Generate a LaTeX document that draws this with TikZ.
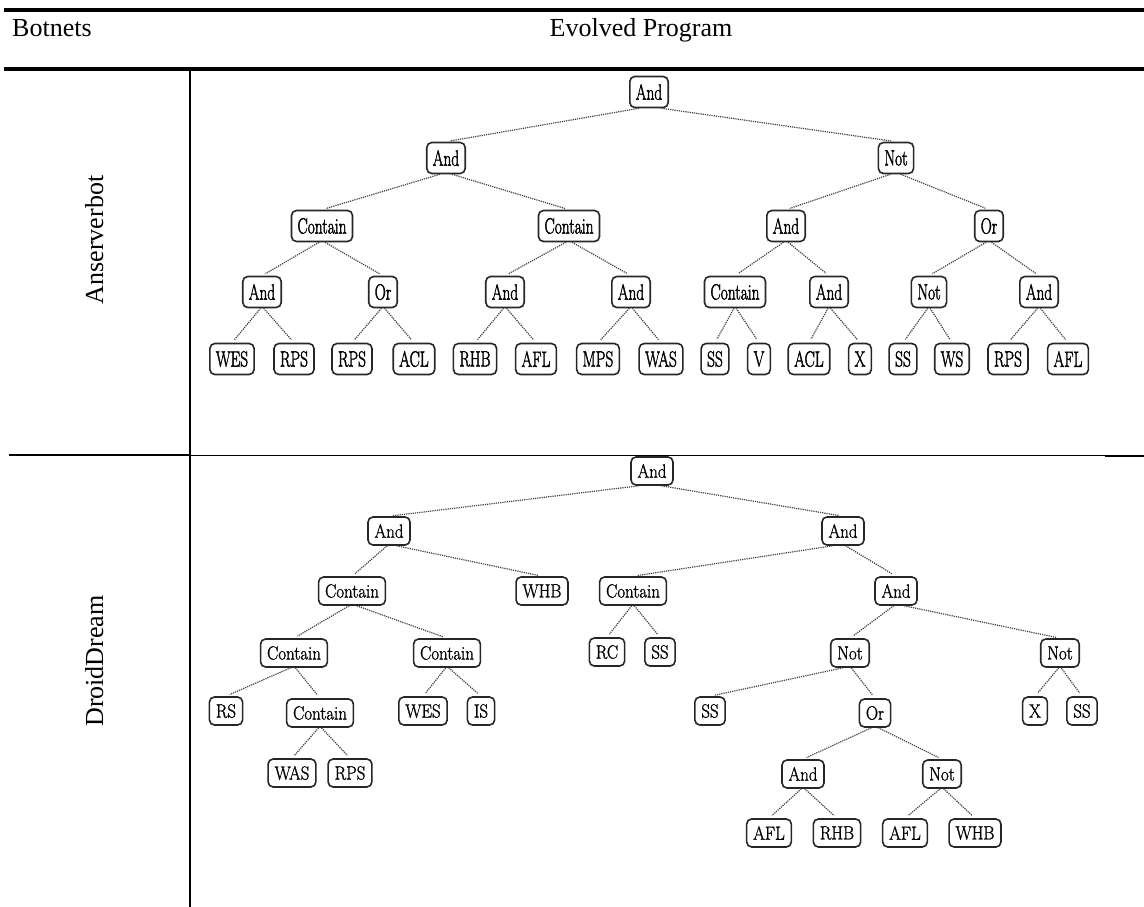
\documentclass[tikz,border=0pt]{standalone}
\usepackage{fontspec}
\newfontfamily\headfont{Liberation Serif}
\newfontfamily\labfont{Latin Modern Roman}[FakeBold=1.3]
\newfontfamily\heavylabfont{Latin Modern Roman}[FakeBold=2.2]
\usetikzlibrary{calc}

% labels of the two expression trees are set a little taller than wide
\newcommand\uptxt[1]{\scalebox{1}[1.43]{#1}}
\newcommand\lowtxt[1]{\scalebox{1}[1.13]{#1}}

% connector from the bottom of a parent box to the top of a child box
\newcommand\tlink[2]{\draw[edge] let \p1=(#1.south), \p2=(#2.north) in ({\x1+0.05*(\x2-\x1)},\y1) -- (\p2);}

\tikzset{
  head/.style={font=\headfont\fontsize{26}{31}\selectfont, inner sep=0pt},
  op/.style={draw=black!85, line width=1.6pt, rounded corners=5pt, inner ysep=0pt},
  upper/.style={op, minimum height=31pt, inner xsep=6pt, font=\heavylabfont\fontsize{15.4}{17}\selectfont},
  lower/.style={op, minimum height=28pt, inner xsep=6.5pt, font=\labfont\fontsize{16.9}{19}\selectfont},
  edge/.style={draw=black!75, densely dotted, line width=1.2pt, shorten >=4pt},
  rulethick/.style={line width=3.6pt},
}

\begin{document}
\begin{tikzpicture}[x=1pt, y=-1pt]
\useasboundingbox (0,0) rectangle (1144,907);

% table rules
\draw[rulethick] (4,10) -- (1144,10);
\draw[rulethick] (4,69) -- (1144,69);
\draw[line width=2.3pt] (190,69) -- (190,907);
\draw[line width=2pt] (9,455) -- (190,455);
\draw[line width=1pt] (190,455) -- (1105,455);
\draw[line width=2pt] (1105,456) -- (1144,456);

% header and row labels
\node[head, anchor=base west] (hb) at (12,37) {Botnets};
\node[head, anchor=base] (hp) at (641,37) {Evolved Program};
\node[head, rotate=90, anchor=base] (la) at (103,240) {Anserverbot};
\node[head, rotate=90, anchor=base] (lb) at (103,661) {DroidDream};

% ---------- Anserverbot ----------
\node[upper] (t0) at (649,92) {\uptxt{And}};
\node[upper] (t1) at (446,158) {\uptxt{And}};
\node[upper] (t2) at (896,158) {\uptxt{Not}};
\node[upper] (t3) at (322,226) {\uptxt{Contain}};
\node[upper] (t4) at (569,226) {\uptxt{Contain}};
\node[upper] (t5) at (786,226) {\uptxt{And}};
\node[upper] (t6) at (989,226) {\uptxt{Or}};
\node[upper] (t7) at (262,292) {\uptxt{And}};
\node[upper] (t8) at (383,292) {\uptxt{Or}};
\node[upper] (t9) at (505,292) {\uptxt{And}};
\node[upper] (t10) at (631,292) {\uptxt{And}};
\node[upper] (t11) at (735,292) {\uptxt{Contain}};
\node[upper] (t12) at (829,292) {\uptxt{And}};
\node[upper] (t13) at (929,292) {\uptxt{Not}};
\node[upper] (t14) at (1039,292) {\uptxt{And}};
\node[upper] (u1) at (232,359) {\uptxt{WES}};
\node[upper] (u2) at (294,359) {\uptxt{RPS}};
\node[upper] (u3) at (352,359) {\uptxt{RPS}};
\node[upper] (u4) at (414,359) {\uptxt{ACL}};
\node[upper] (u5) at (475,359) {\uptxt{RHB}};
\node[upper] (u6) at (536,359) {\uptxt{AFL}};
\node[upper] (u7) at (598,359) {\uptxt{MPS}};
\node[upper] (u8) at (661,359) {\uptxt{WAS}};
\node[upper] (u9) at (715,359) {\uptxt{SS}};
\node[upper] (u10) at (759,359) {\uptxt{V}};
\node[upper] (u11) at (809,359) {\uptxt{ACL}};
\node[upper] (u12) at (860,359) {\uptxt{X}};
\node[upper] (u13) at (903,359) {\uptxt{SS}};
\node[upper] (u14) at (952,359) {\uptxt{WS}};
\node[upper] (u15) at (1008,359) {\uptxt{RPS}};
\node[upper] (u16) at (1068,359) {\uptxt{AFL}};

\foreach \a/\b in {t0/t1,t0/t2,t1/t3,t1/t4,t2/t5,t2/t6,t3/t7,t3/t8,t4/t9,t4/t10,
  t5/t11,t5/t12,t6/t13,t6/t14,t7/u1,t7/u2,t8/u3,t8/u4,t9/u5,t9/u6,t10/u7,t10/u8,
  t11/u9,t11/u10,t12/u11,t12/u12,t13/u13,t13/u14,t14/u15,t14/u16}
  {\tlink{\a}{\b}}

% ---------- DroidDream ----------
\node[lower] (d0) at (652,471) {\lowtxt{And}};
\node[lower] (d1) at (389,531) {\lowtxt{And}};
\node[lower] (d2) at (843,531) {\lowtxt{And}};
\node[lower] (d3) at (352,591) {\lowtxt{Contain}};
\node[lower] (d4) at (542,591) {\lowtxt{WHB}};
\node[lower] (d5) at (633,591) {\lowtxt{Contain}};
\node[lower] (d6) at (896,591) {\lowtxt{And}};
\node[lower] (d7) at (294,653) {\lowtxt{Contain}};
\node[lower] (d8) at (447,653) {\lowtxt{Contain}};
\node[lower] (d9) at (607,652) {\lowtxt{RC}};
\node[lower] (d10) at (660,652) {\lowtxt{SS}};
\node[lower] (d11) at (850,653) {\lowtxt{Not}};
\node[lower] (d12) at (1060,653) {\lowtxt{Not}};
\node[lower] (d13) at (226,711) {\lowtxt{RS}};
\node[lower] (d14) at (320,713) {\lowtxt{Contain}};
\node[lower] (d15) at (423,711) {\lowtxt{WES}};
\node[lower] (d16) at (481,711) {\lowtxt{IS}};
\node[lower] (d17) at (710,711) {\lowtxt{SS}};
\node[lower] (d18) at (875,713) {\lowtxt{Or}};
\node[lower] (d19) at (1035,711) {\lowtxt{X}};
\node[lower] (d20) at (1082,711) {\lowtxt{SS}};
\node[lower] (d21) at (292,773) {\lowtxt{WAS}};
\node[lower] (d22) at (350,773) {\lowtxt{RPS}};
\node[lower] (d23) at (803,774) {\lowtxt{And}};
\node[lower] (d24) at (942,774) {\lowtxt{Not}};
\node[lower] (d25) at (769,833) {\lowtxt{AFL}};
\node[lower] (d26) at (837,833) {\lowtxt{RHB}};
\node[lower] (d27) at (905,833) {\lowtxt{AFL}};
\node[lower] (d28) at (975,833) {\lowtxt{WHB}};

\foreach \a/\b in {d0/d1,d0/d2,d1/d3,d1/d4,d2/d5,d2/d6,d3/d7,d3/d8,d5/d9,d5/d10,
  d6/d11,d6/d12,d7/d13,d7/d14,d8/d15,d8/d16,d11/d17,d11/d18,d12/d19,d12/d20,
  d14/d21,d14/d22,d18/d23,d18/d24,d23/d25,d23/d26,d24/d27,d24/d28}
  {\tlink{\a}{\b}}
\end{tikzpicture}
\end{document}
